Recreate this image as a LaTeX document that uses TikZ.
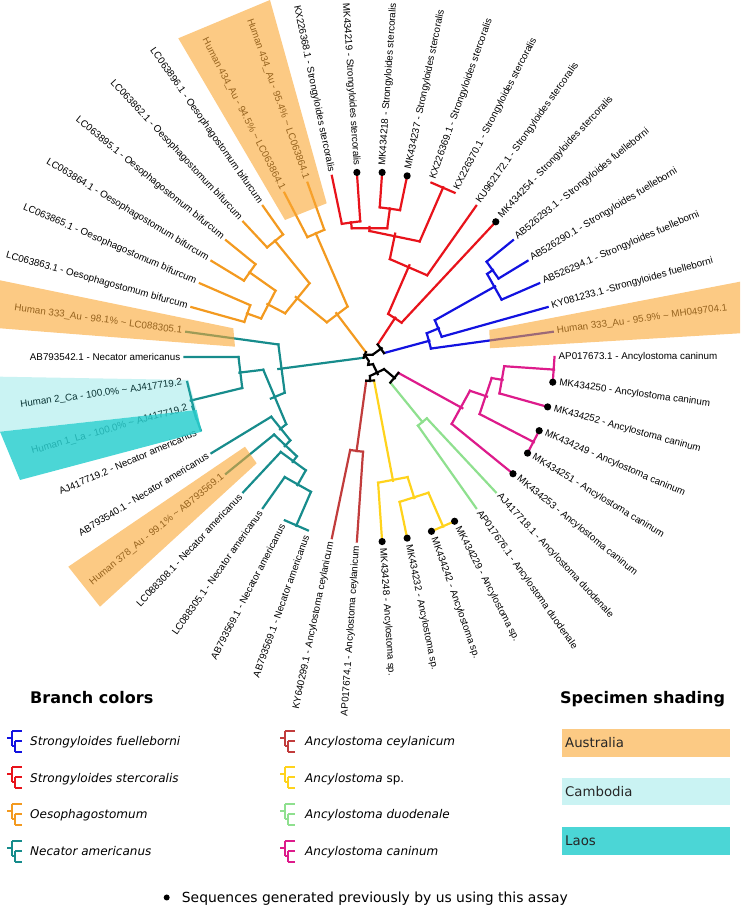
\documentclass[tikz,border=0pt]{standalone}
\usepackage{fontspec}
\setmainfont{Liberation Sans}
\newfontfamily\legfont{DejaVu Sans}
\usetikzlibrary{positioning}
\definecolor{SF}{HTML}{1212E0}
\definecolor{SS}{HTML}{E8131B}
\definecolor{OE}{HTML}{F39A20}
\definecolor{NA}{HTML}{178C8C}
\definecolor{AC}{HTML}{C13C3C}
\definecolor{AS}{HTML}{FFD31C}
\definecolor{AD}{HTML}{8FE08F}
\definecolor{AN}{HTML}{DD1B8B}
\definecolor{AUS}{HTML}{FAA632}
\definecolor{CYA}{HTML}{2BCFCF}

\tikzset{
  br/.style={line width=2.2pt, line cap=rect},
  lbl/.style={inner sep=0pt, font=\fontsize{9.8}{11}\selectfont},
  licon/.style={line width=2pt},
  legtitle/.style={anchor=base west, inner sep=0pt, font=\legfont\bfseries\fontsize{16}{19}\selectfont},
  legitem/.style={anchor=base west, inner sep=0pt, font=\legfont\itshape\fontsize{12}{14}\selectfont},
  boxtxt/.style={anchor=west, inner sep=0pt, text=black!85, font=\legfont\fontsize{13.3}{15}\selectfont},
}

% one internal node: colour, angle slot, parent radius, own radius, child slots
\newcommand{\bnode}[6]{%
  \draw[br,#1] ({7.826*(#2)}:#3) -- ({7.826*(#2)}:#4)
    ({7.826*(#5)}:#4) -- ({7.826*(#6)}:#4);}
\newcommand{\bleaf}[3]{%
  \draw[br,#1] ({7.826*(#2)}:#3) -- ({7.826*(#2)}:185);}
\newcommand{\tip}[4]{%
  \pgfmathsetmacro{\tipang}{7.826*(#1)}%
  \pgfmathtruncatemacro{\tipside}{cos(\tipang)<0}%
  \ifnum\tipside=1
    \node[lbl,anchor=east,rotate=\tipang+180] (#2) at (\tipang:#4) {#3};%
  \else
    \node[lbl,anchor=west,rotate=\tipang] (#2) at (\tipang:#4) {#3};%
  \fi}
\newcommand{\legicon}[3]{%
  \draw[licon,#3] (#1,#2+4) -- ++(5,0)
    (#1+5,#2+11) -- (#1+5,#2-4)
    (#1+5,#2+11) -- ++(10,0)
    (#1+5,#2-4) -- ++(3,0)
    (#1+8,#2+1) -- (#1+8,#2-10)
    (#1+8,#2+1) -- ++(7,0)
    (#1+8,#2-10) -- ++(7,0);}

\begin{document}
\begin{tikzpicture}[x=1pt,y=1pt]
\useasboundingbox (0,0) rectangle (740,905);

\begin{scope}[shift={(369.5,548)}]
  % Strongyloides stercoralis
  \bnode{SS}{7.25}{15}{47}{8.5}{6}
  \bleaf{SS}{6}{47}
  \bnode{SS}{8.5}{47}{100}{10}{7}
  \bleaf{SS}{7}{100}
  \bnode{SS}{10}{100}{126}{11.5}{8.5}
  \bnode{SS}{8.5}{126}{185}{9}{8}
  \bnode{SS}{11.5}{126}{130}{12.5}{10.5}
  \bnode{SS}{12.5}{130}{136}{13}{12}
  \bnode{SS}{10.5}{130}{150}{11}{10}
  \bleaf{SS}{13}{136} \bleaf{SS}{12}{136}
  \bleaf{SS}{11}{150} \bleaf{SS}{10}{150}
  % Strongyloides fuelleborni
  \bnode{SF}{1.9375}{15}{62}{2.875}{1}
  \bleaf{SF}{1}{62}
  \bnode{SF}{2.875}{62}{75}{3.75}{2}
  \bleaf{SF}{2}{75}
  \bnode{SF}{3.75}{75}{144}{4.5}{3}
  \bleaf{SF}{3}{144}
  \bnode{SF}{4.5}{144}{151}{5}{4}
  \bleaf{SF}{5}{151} \bleaf{SF}{4}{151}
  \bnode{black}{4.59375}{4}{15}{7.25}{1.9375}
  % Ancylostoma caninum
  \bnode{AN}{-3.6875}{33}{106}{-2.375}{-5}
  \bleaf{AN}{-5}{106}
  \bnode{AN}{-2.375}{106}{124}{-1.25}{-3.5}
  \bnode{AN}{-3.5}{124}{185}{-3}{-4}
  \bnode{AN}{-1.25}{124}{135}{-0.5}{-2}
  \bleaf{AN}{-2}{135}
  \bnode{AN}{-0.5}{135}{185}{0}{-1}
  % Ancylostoma duodenale
  \bnode{AD}{-6.5}{33}{84}{-6}{-7}
  \bleaf{AD}{-6}{84} \bleaf{AD}{-7}{84}
  \bnode{black}{-5.09375}{19}{33}{-3.6875}{-6.5}
  % Ancylostoma sp.
  \bnode{AS}{-10.125}{24}{126}{-11}{-9.25}
  \bleaf{AS}{-11}{126}
  \bnode{AS}{-9.25}{126}{148}{-8.5}{-10}
  \bleaf{AS}{-10}{148}
  \bnode{AS}{-8.5}{148}{185}{-8}{-9}
  % Ancylostoma ceylanicum
  \bnode{AC}{-12.5}{24}{95}{-12}{-13}
  \bleaf{AC}{-12}{95} \bleaf{AC}{-13}{95}
  \bnode{black}{-11.3125}{19}{24}{-10.125}{-12.5}
  \bnode{black}{-8.203}{8}{19}{-5.09375}{-11.3125}
  % Necator americanus
  \bnode{NA}{-22.04}{6}{92}{-24}{-20.08}
  \bleaf{NA}{-24}{92}
  \bnode{NA}{-20.08}{92}{107}{-22.125}{-18.03}
  \bnode{NA}{-22.125}{107}{131}{-23}{-21.25}
  \bleaf{NA}{-23}{131}
  \bnode{NA}{-21.25}{131}{184}{-22}{-20.5}
  \bnode{NA}{-20.5}{184}{184}{-21}{-20}
  \bnode{NA}{-18.03}{107}{115}{-19}{-17.0625}
  \bleaf{NA}{-19}{115}
  \bnode{NA}{-17.0625}{115}{123}{-18}{-16.125}
  \bleaf{NA}{-18}{123}
  \bnode{NA}{-16.125}{123}{130}{-17}{-15.25}
  \bleaf{NA}{-17}{130}
  \bnode{NA}{-15.25}{130}{147}{-16}{-14.5}
  \bleaf{NA}{-16}{147}
  \bnode{NA}{-14.5}{147}{184}{-15}{-14}
  % Oesophagostomum
  \bnode{OE}{-29.75}{6}{55}{-28}{-31.5}
  \bnode{OE}{-31.5}{55}{135}{-31}{-32}
  \bleaf{OE}{-31}{135} \bleaf{OE}{-32}{135}
  \bnode{OE}{-28}{55}{95}{-26.5}{-29.5}
  \bnode{OE}{-29.5}{95}{150}{-29}{-30}
  \bleaf{OE}{-29}{150} \bleaf{OE}{-30}{150}
  \bnode{OE}{-26.5}{95}{115}{-25.5}{-27.5}
  \bnode{OE}{-27.5}{115}{147}{-27}{-28}
  \bleaf{OE}{-27}{147} \bleaf{OE}{-28}{147}
  \bnode{OE}{-25.5}{115}{130}{-25}{-26}
  \bleaf{OE}{-25}{130} \bleaf{OE}{-26}{130}
  % root
  \draw[br,black] ({7.826*(-29.75)}:6) -- ({7.826*(-22.04)}:6);
  \draw[br,black] ({7.826*4.59375}:4) -- (156.8:5.2) -- (-100:4) -- (-100:8)
    -- ({7.826*(-8.203)}:8);

  \foreach \k in {12,11,10,6,-1,-2,-3,-4,-5,-8,-9,-10,-11}
    \fill ({7.826*\k}:185) circle (3.6);

  \foreach \k/\nm/\lab in {
    13/l13/KX226368.1 - Strongyloides stercoralis,
    9/l9/KX226369.1 - Strongyloides stercoralis,
    8/l8/KX226370.1 - Strongyloides stercoralis,
    7/l7/KU962172.1 - Strongyloides stercoralis,
    5/l5/AB526293.1 - Strongyloides fuelleborni,
    4/l4/AB526290.1 - Strongyloides fuelleborni,
    3/l3/AB526294.1 - Strongyloides fuelleborni,
    2/l2/KY081233.1 -Strongyloides fuelleborni,
    1/l1/Human 333\_Au - 95.9\% \textasciitilde{} MH049704.1,
    0/l0/AP017673.1 - Ancylostoma caninum,
    -6/lm6/AJ417718.1 - Ancylostoma duodenale,
    -7/lm7/AP017676.1 - Ancylostoma duodenale,
    -12/lm12/AP017674.1 - Ancylostoma ceylanicum,
    -13/lm13/KY640299.1 - Ancylostoma ceylanicum,
    -14/lm14/AB793569.1 - Necator americanus,
    -15/lm15/AB793569.1 - Necator americanus,
    -16/lm16/LC088305.1 - Necator americanus,
    -17/lm17/LC088308.1 - Necator americanus,
    -18/lm18/Human 378\_Au - 99.1\% \textasciitilde{} AB793569.1,
    -19/lm19/AB793540.1 - Necator americanus,
    -20/lm20/AJ417719.2 - Necator americanus,
    -21/lm21/Human 1\_La - 100.0\% \textasciitilde{} AJ417719.2,
    -22/lm22/Human 2\_Ca - 100.0\% \textasciitilde{} AJ417719.2,
    -23/lm23/AB793542.1 - Necator americanus,
    -24/lm24/Human 333\_Au - 98.1\% \textasciitilde{} LC088305.1,
    -25/lm25/LC063863.1 - Oesophagostomum bifurcum,
    -26/lm26/LC063865.1 - Oesophagostomum bifurcum,
    -27/lm27/LC063864.1 - Oesophagostomum bifurcum,
    -28/lm28/LC063895.1 - Oesophagostomum bifurcum,
    -29/lm29/LC063862.1 - Oesophagostomum bifurcum,
    -30/lm30/LC063896.1 - Oesophagostomum bifurcum,
    -31/lm31/Human 434\_Au - 94.5\% \textasciitilde{} LC063864.1,
    -32/lm32/Human 434\_Au - 95.4\% \textasciitilde{} LC063864.1}
    {\tip{\k}{\nm}{\lab}{189}}

  \foreach \k/\nm/\lab in {
    12/l12/MK434219 - Strongyloides stercoralis,
    11/l11/MK434218 - Strongyloides stercoralis,
    10/l10/MK434237 - Strongyloides stercoralis,
    6/l6/MK434254 - Strongyloides stercoralis,
    -1/lm1/MK434250 - Ancylostoma caninum,
    -2/lm2/MK434252 - Ancylostoma caninum,
    -3/lm3/MK434249 - Ancylostoma caninum,
    -4/lm4/MK434251 - Ancylostoma caninum,
    -5/lm5/MK434253 - Ancylostoma caninum,
    -8/lm8/MK434229 - Ancylostoma sp.,
    -9/lm9/MK434242 - Ancylostoma sp.,
    -10/lm10/MK434232 - Ancylostoma sp.,
    -11/lm11/MK434248 - Ancylostoma sp.}
    {\tip{\k}{\nm}{\lab}{191.5}}
\end{scope}

% specimen shading, laid over the tree
\begin{scope}
  \clip (0,0) rectangle (740,905);
  \fill[AUS,fill opacity=0.6] (178.3,866.7) -- (270,905) -- (326.7,701.7) -- (285,685) -- cycle;
  \fill[AUS,fill opacity=0.6] (0,624.7) -- (233.3,576.7) -- (235,558.3) -- (0,576.7) -- cycle;
  \fill[AUS,fill opacity=0.6] (489.3,575) -- (740,623.3) -- (740,571.7) -- (490,556.7) -- cycle;
  \fill[AUS,fill opacity=0.6] (245,458.3) -- (256.7,441.7) -- (100,298.3) -- (68.3,338.3) -- cycle;
  \fill[CYA,fill opacity=0.25] (0,528.3) -- (188.3,525) -- (196.7,495) -- (0,473.3) -- cycle;
  \fill[CYA,fill opacity=0.85] (0,473.3) -- (196.7,495) -- (201.7,473.3) -- (20,425) -- cycle;
\end{scope}

% legend
\node[legtitle] (brtitle) at (30,201.5) {Branch colors};
\legicon{7}{163.3}{SF}  \node[legitem] (lgsf) at (30,159) {Strongyloides fuelleborni};
\legicon{7}{126.7}{SS}  \node[legitem] (lgss) at (30,122.5) {Strongyloides stercoralis};
\legicon{7}{90}{OE}     \node[legitem] (lgoe) at (30,86) {Oesophagostomum};
\legicon{7}{53.3}{NA}   \node[legitem] (lgna) at (30,49.5) {Necator americanus};
\legicon{280}{163.3}{AC} \node[legitem] (lgac) at (305,159) {Ancylostoma ceylanicum};
\legicon{280}{126.7}{AS} \node[legitem] (lgas) at (305,122.5) {Ancylostoma {\upshape sp.}};
\legicon{280}{90}{AD}    \node[legitem] (lgad) at (305,86) {Ancylostoma duodenale};
\legicon{280}{53.3}{AN}  \node[legitem] (lgan) at (305,49.5) {Ancylostoma caninum};

\node[legtitle] (shtitle) at (560,201.5) {Specimen shading};
\fill[AUS,fill opacity=0.6] (561.7,148.3) rectangle (730,175.7);
\node[boxtxt] (bxau) at (565,162) {Australia};
\fill[CYA,fill opacity=0.25] (561.7,100) rectangle (730,126.7);
\node[boxtxt] (bxca) at (565,113.3) {Cambodia};
\fill[CYA,fill opacity=0.85] (561.7,50) rectangle (730,78.3);
\node[boxtxt] (bxla) at (565,64) {Laos};

\fill (166.7,7.5) circle (3);
\node[anchor=base west,inner sep=0pt,font=\legfont\fontsize{13.9}{16}\selectfont] (note) at (181.7,2.8)
  {Sequences generated previously by us using this assay};
\end{tikzpicture}
\end{document}
